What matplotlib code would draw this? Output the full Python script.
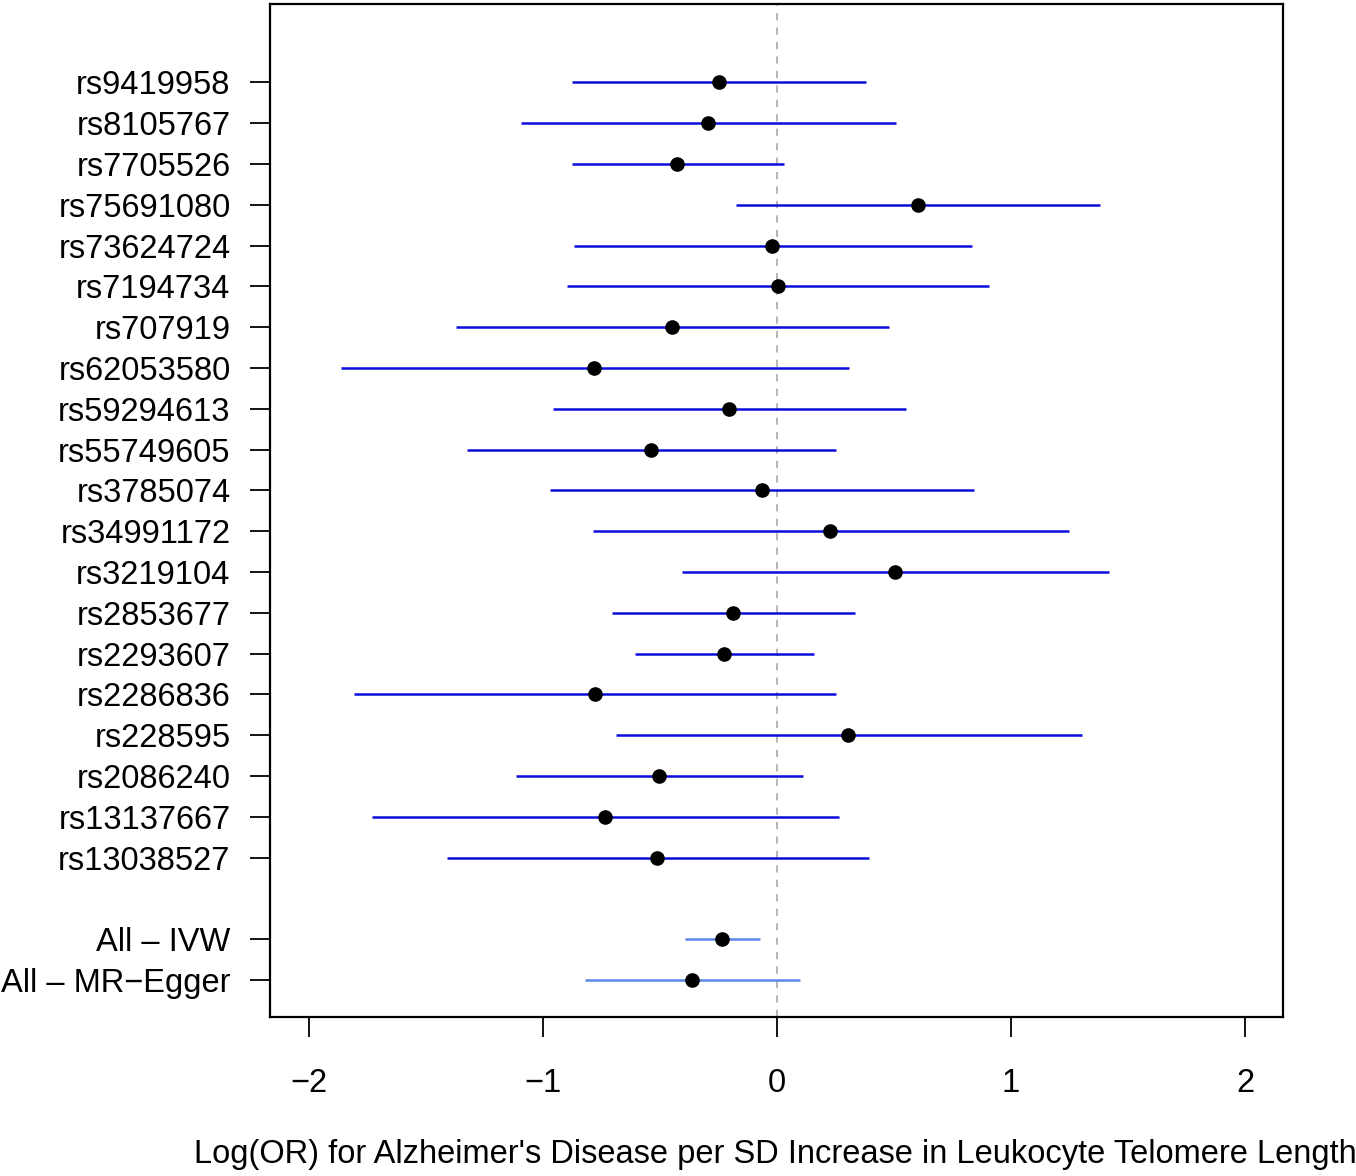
import matplotlib
matplotlib.use("Agg")
from matplotlib import pyplot as plt

plt.rcParams.update({
    "font.family": ["Liberation Sans", "DejaVu Sans"],
    "axes.unicode_minus": True,
})

# SNP estimates, listed top to bottom
snps = ["rs9419958", "rs8105767", "rs7705526", "rs75691080", "rs73624724",
        "rs7194734", "rs707919", "rs62053580", "rs59294613", "rs55749605",
        "rs3785074", "rs34991172", "rs3219104", "rs2853677", "rs2293607",
        "rs2286836", "rs228595", "rs2086240", "rs13137667", "rs13038527"]
snp_est = [-0.248, -0.295, -0.427, 0.603, -0.021, 0.004, -0.449, -0.782, -0.205, -0.538,
           -0.064, 0.226, 0.504, -0.188, -0.226, -0.778, 0.303, -0.504, -0.735, -0.513]
snp_lo = [-0.876, -1.094, -0.876, -0.175, -0.868, -0.897, -1.372, -1.863, -0.957, -1.325,
          -0.970, -0.786, -0.406, -0.705, -0.607, -1.808, -0.688, -1.115, -1.731, -1.410]
snp_hi = [0.380, 0.509, 0.030, 1.380, 0.833, 0.906, 0.479, 0.308, 0.551, 0.252,
          0.842, 1.248, 1.419, 0.333, 0.158, 0.252, 1.303, 0.111, 0.265, 0.393]

# summary estimates, top to bottom
summ = ["All \u2013 IVW", "All \u2013 MR\u2212Egger"]
summ_est = [-0.235, -0.363]
summ_lo = [-0.393, -0.821]
summ_hi = [-0.073, 0.098]

xticks = [-2, -1, 0, 1, 2]
xlabel = "Log(OR) for Alzheimer's Disease per SD Increase in Leukocyte Telomere Length"

FS = 23.5
SNP_COL = "#0c0cdc"
SUM_COL = "#5a86e8"


def main():
    fig = plt.figure(figsize=(13.56, 11.76), dpi=100)
    ax = fig.add_axes([270 / 1356, 1 - 1017 / 1176, (1283 - 270) / 1356, (1017 - 4) / 1176])

    n = len(snps)
    # positions: MR-Egger = 1, IVW = 2, blank = 3, SNPs 4..23
    snp_y = [n + 3 - i for i in range(n)]
    summ_y = [2, 1]

    ax.axvline(0, color="#b0b0b0", linestyle=(0, (4, 4)), linewidth=1.3, zorder=1)

    ax.hlines(snp_y, snp_lo, snp_hi, color=SNP_COL, linewidth=1.8, zorder=2)
    ax.hlines(summ_y, summ_lo, summ_hi, color=SUM_COL, linewidth=1.8, zorder=2)
    ax.plot(snp_est, snp_y, "o", color="black", markersize=9.5, zorder=3)
    ax.plot(summ_est, summ_y, "o", color="black", markersize=9.5, zorder=3)

    ax.set_xlim(-2.167, 2.162)
    ax.set_ylim(0.093, 24.92)

    ax.set_yticks(snp_y + summ_y)
    ax.set_yticklabels(snps + summ, fontsize=FS)
    ax.set_xticks(xticks)
    ax.set_xticklabels([str(t).replace("-", "\u2212") for t in xticks], fontsize=FS)
    ax.tick_params(axis="both", direction="out", length=14.4, width=1.3, color="black")
    ax.tick_params(axis="y", pad=14)
    ax.tick_params(axis="x", pad=22)

    for s in ax.spines.values():
        s.set_linewidth(1.6)

    fig.text(775 / 1356, 1 - 1154 / 1176, xlabel, fontsize=FS, ha="center", va="center")

    fig.savefig("out.png", dpi=100)


main()
